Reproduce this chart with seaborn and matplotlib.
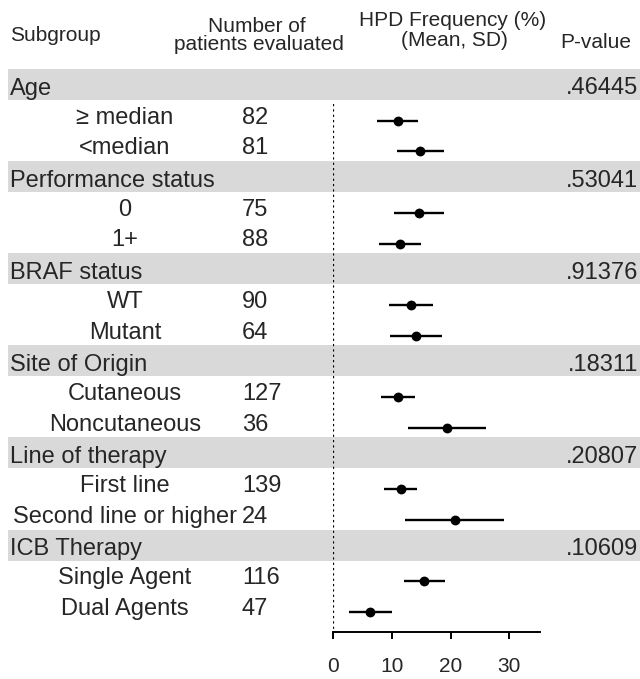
import matplotlib
matplotlib.use("Agg")
import matplotlib.pyplot as plt
import numpy as np
import pandas as pd
import seaborn as sns

# ---- data ----
groups = ["Age", "Performance status", "BRAF status", "Site of Origin",
          "Line of therapy", "ICB Therapy"]
p_values = [".46445", ".53041", ".91376", ".18311", ".20807", ".10609"]
subgroups = ["\u2265 median", "<median", "0", "1+", "WT", "Mutant",
             "Cutaneous", "Noncutaneous", "First line", "Second line or higher",
             "Single Agent", "Dual Agents"]
n_patients = [82, 81, 75, 88, 90, 64, 127, 36, 139, 24, 116, 47]
hpd_mean = [11.0, 14.8, 14.6, 11.4, 13.3, 14.1, 11.05, 19.4, 11.5, 20.7, 15.55, 6.35]
hpd_sd = [3.5, 4.0, 4.2, 3.5, 3.7, 4.45, 2.85, 6.65, 2.8, 8.4, 3.45, 3.65]
x_ticks = [0, 10, 20, 30]

# ---- style ----
sns.set_theme(style="white")
plt.rcParams["font.family"] = ["Liberation Sans", "DejaVu Sans"]

W, H = 640, 679
fig = plt.figure(figsize=(W / 100, H / 100), dpi=100)

# row layout in pixel units (top-down)
ROW0, STEP = 90.0, 30.7
AXIS_Y = 631.7
X0_PX, X1_PX = 333.0, 540.0
XMAX = 35.2

def row_y(i):
    return ROW0 + STEP * i

header_rows = [3 * g for g in range(len(groups))]
sub_rows = [3 * g + k for g in range(len(groups)) for k in (1, 2)]

# background layer: bands and table text
bg = fig.add_axes([0, 0, 1, 1])
bg.set_xlim(0, W)
bg.set_ylim(H, 0)
bg.axis("off")

BAND = "#d9d9d9"
for g, r in enumerate(header_rows):
    y = row_y(r)
    bg.fill_between([8, W], y - 21, y + 10, color=BAND, lw=0, zorder=0)
    bg.text(10, y + 4.5, groups[g], fontsize=17, ha="left", va="baseline")
    bg.text(638, y + 4.5, p_values[g], fontsize=17, ha="right", va="baseline")

for j, r in enumerate(sub_rows):
    y = row_y(r)
    bg.text(125, y + 3, subgroups[j], fontsize=17, ha="center", va="baseline")
    bg.text(242, y + 3, str(n_patients[j]), fontsize=17, ha="left", va="baseline")

# column headers
hdr = dict(fontsize=15, va="baseline")
bg.text(10, 41, "Subgroup", ha="left", **hdr)
bg.text(257, 31.5, "Number of", ha="center", **hdr)
bg.text(259, 50.5, "patients evaluated", ha="center", **hdr)
bg.text(453, 26.5, "HPD Frequency (%)", ha="center", **hdr)
bg.text(454.5, 46.5, "(Mean, SD)", ha="center", **hdr)
bg.text(595.5, 48.3, "P-value", ha="center", **hdr)

# forest panel
TOP_PX = 69.0
ax = fig.add_axes([X0_PX / W, (H - AXIS_Y) / H,
                   (X1_PX - X0_PX) / W, (AXIS_Y - TOP_PX) / H])
ax.patch.set_alpha(0)

df = pd.DataFrame({
    "mean": hpd_mean,
    "sd": hpd_sd,
    "y": [row_y(r) for r in sub_rows],
})
df["lo"] = df["mean"] - df["sd"]
df["hi"] = df["mean"] + df["sd"]

# reference line at zero
ax.vlines(0, row_y(1) - 17, AXIS_Y, colors="black", linestyles=(0, (1, 1.4)),
          lw=1.6, zorder=1)
# mean +/- SD intervals and mean markers
ax.hlines(df["y"], df["lo"], df["hi"], colors="black", lw=1.7, zorder=2)
sns.scatterplot(data=df, x="mean", y="y", ax=ax, color="black", s=50,
                edgecolor="black", linewidth=0, zorder=3, legend=False)

ax.set_xlim(0, XMAX)
ax.set_ylim(AXIS_Y, TOP_PX)
ax.set_xlabel("")
ax.set_ylabel("")
ax.set_yticks([])
ax.set_xticks(x_ticks)
ax.set_xticklabels([str(t) for t in x_ticks], fontsize=15)
for s in ("left", "top", "right"):
    ax.spines[s].set_visible(False)
ax.spines["bottom"].set_color("black")
ax.spines["bottom"].set_linewidth(1.4)
ax.tick_params(axis="x", direction="out", length=5, width=1.4,
               color="black", pad=13, bottom=True)

fig.savefig("out.png", dpi=100)
